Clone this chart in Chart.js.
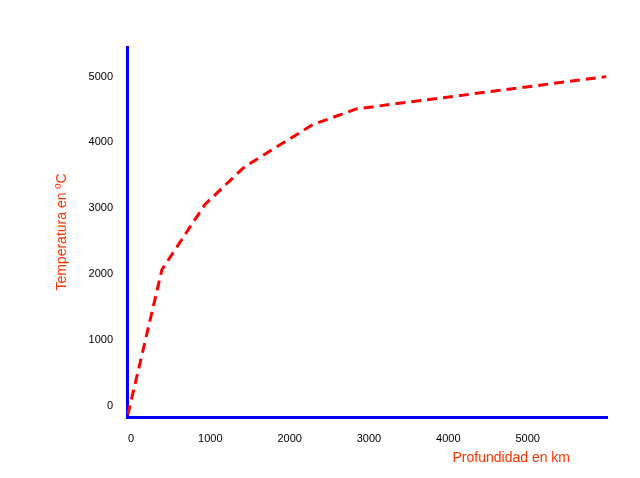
<!DOCTYPE html>
<html><head><script src="https://cdn.jsdelivr.net/npm/chart.js@4"></script>
<style>body{margin:0}#w{width:640px;height:478px}</style></head>
<body><div id="w"><canvas id="c"></canvas></div>
<script>
const depth=[-40,390,930,1430,2290,2840,5990];
const temp=[-140,2067,3055,3630,4270,4510,5000];
const xTicks=[0,1000,2000,3000,4000,5000];
const yTicks=[0,1000,2000,3000,4000,5000];
const xTitle={id:'xt',afterDraw(ch){const c=ch.ctx;c.save();c.fillStyle='#ff3300';c.font='14px "Liberation Sans"';c.textAlign='right';c.textBaseline='middle';c.fillText('Profundidad en km',570,458);c.restore();}};
new Chart(document.getElementById('c'),{type:'line',
data:{datasets:[{data:depth.map((x,i)=>({x,y:temp[i]})),borderColor:'#ff0000',borderWidth:3,borderDash:[10,6],pointRadius:0,tension:0}]},
plugins:[xTitle],
options:{responsive:true,maintainAspectRatio:false,animation:false,
layout:{padding:{left:50,top:47,right:33,bottom:0}},
plugins:{legend:{display:false},tooltip:{enabled:false}},
scales:{
x:{type:'linear',min:-50,max:6000,grid:{display:false,drawTicks:false},border:{color:'#0000ff',width:3},
afterBuildTicks:s=>{s.ticks=xTicks.map(v=>({value:v}))},afterFit:s=>{s.height=61},
ticks:{color:'#000',font:{size:11,family:'Liberation Sans'},padding:15,callback:v=>String(v)}},
y:{min:-170,max:5450,grid:{display:false,drawTicks:false},border:{color:'#0000ff',width:3},
afterBuildTicks:s=>{s.ticks=yTicks.map(v=>({value:v}))},afterFit:s=>{s.width=77},
ticks:{color:'#000',font:{size:11,family:'Liberation Sans'},padding:14,callback:v=>String(v)},
title:{display:true,text:'Temperatura en ºC',color:'#ff3300',font:{size:14,family:'Liberation Sans'},padding:{bottom:10}}}
}}});
</script></body></html>
